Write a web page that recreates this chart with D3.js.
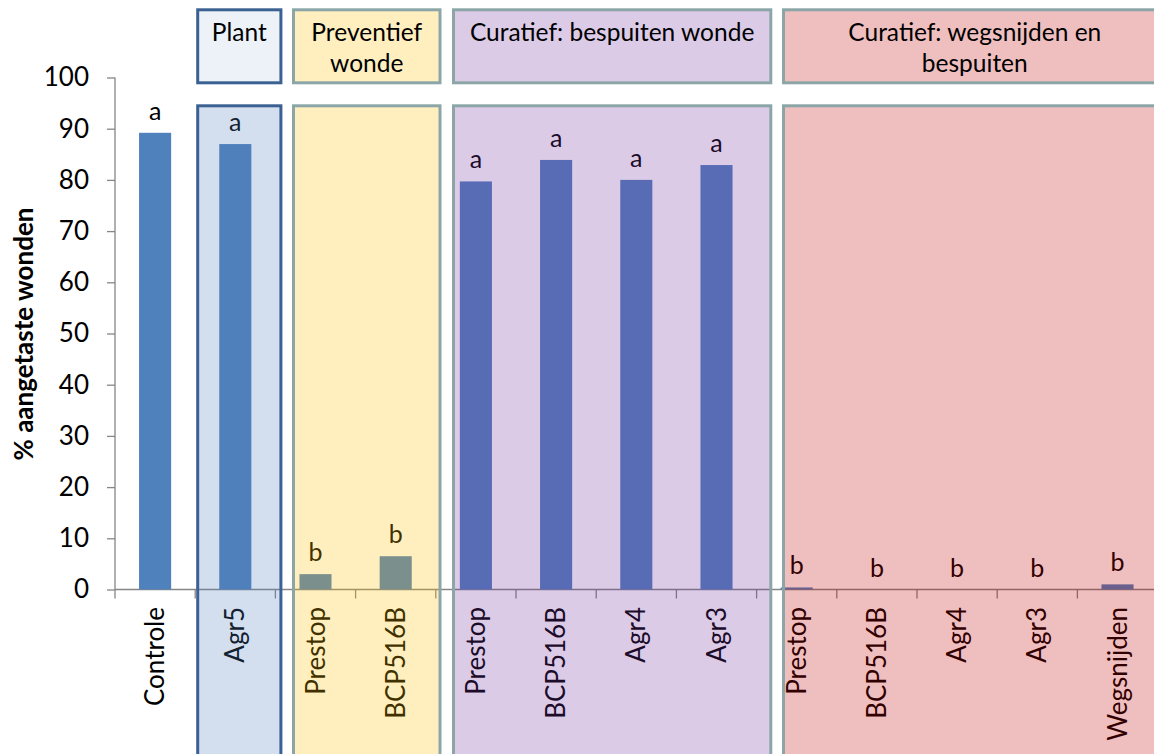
<!DOCTYPE html>
<html><head><meta charset="utf-8">
<script src="https://cdn.jsdelivr.net/npm/d3@7"></script>
<style>body{margin:0;background:#fff;overflow:hidden}svg{display:block;font-family:Lato,"Open Sans",sans-serif}</style>
</head><body><svg id="chart" width="1154" height="754"></svg>
<script>
// ---- data ----
const categories = ["Controle","Agr5","Prestop","BCP516B","Prestop","BCP516B","Agr4","Agr3","Prestop","BCP516B","Agr4","Agr3","Wegsnijden"];
const values = [89.2, 87.0, 3.0, 6.5, 79.7, 83.9, 80.0, 82.9, 0.4, 0, 0, 0, 1.0];
const letters = ["a","a","b","b","a","a","a","a","b","b","b","b","b"];
const groupNames = [["Plant"],["Preventief","wonde"],["Curatief: bespuiten wonde"],["Curatief: wegsnijden en","bespuiten"]];
const groupStart = [1,2,4,8];
const groupEnd = [2,4,8,13];
const yTicks = [0,10,20,30,40,50,60,70,80,90,100];

// ---- layout ----
const svg = d3.select("#chart");
const x = d3.scaleBand().domain(d3.range(categories.length)).range([115, 1157.6]).padding(0);
const y = d3.scaleLinear().domain([0,100]).range([589.5, 77.5]);
const step = x.step();
const barW = step*0.4;
const axisCol = "#868686";
const groupFill = ["#4F81BD","#FFC000","#7030A0","#C00000"];
const headFillOp = [0.1,0.25,0.25,0.25];
const groupStroke = ["#3B6193","#8CA6A7","#8CA6A7","#8CA6A7"];
const padL = [1, 16.6, 16.2, 25.4];
const padR = [7, 5.7, 15.7, 10];
const boundary = i => x.range()[0] + i*step;

// y axis
const yAxis = d3.axisLeft(y).tickValues(yTicks).tickSize(8).tickPadding(18);
const gy = svg.append("g").attr("transform","translate(115,0)").call(yAxis);
gy.selectAll("path,line").attr("stroke",axisCol).attr("stroke-width",1.3);
gy.select(".domain").attr("d","M0,"+y(100)+"V"+y(0));
gy.selectAll("text").attr("font-size",26).attr("font-family","Lato").attr("fill","#000");

// y title
svg.append("text").attr("transform","translate(33,334) rotate(-90)")
  .attr("text-anchor","middle").attr("font-weight","bold").attr("font-size",26).text("% aangetaste wonden");

// x axis line and boundary ticks
svg.append("line").attr("x1",115).attr("x2",1160).attr("y1",y(0)).attr("y2",y(0)).attr("stroke",axisCol).attr("stroke-width",1.3);
svg.selectAll(".xt").data(d3.range(categories.length+1)).join("line")
  .attr("x1",boundary).attr("x2",boundary).attr("y1",y(0)).attr("y2",y(0)+9)
  .attr("stroke",axisCol).attr("stroke-width",1.3);

// bars
svg.selectAll(".bar").data(values).join("rect")
  .attr("x",(d,i)=>x(i)+(step-barW)/2).attr("width",barW)
  .attr("y",d=>y(d)).attr("height",d=>y(0)-y(d)).attr("fill","#4F81BD");

// letters
svg.selectAll(".lab").data(letters).join("text")
  .attr("x",(d,i)=>x(i)+step/2).attr("y",(d,i)=>y(values[i])-13)
  .attr("text-anchor","middle").attr("font-size",25).text(d=>d);

// category labels
svg.selectAll(".cat").data(categories).join("text")
  .attr("transform",(d,i)=>"translate("+(x(i)+step/2)+",607) rotate(-90)")
  .attr("text-anchor","end").attr("dy","0.35em").attr("font-size",26).text(d=>d);

// group boxes (lower overlays)
groupNames.forEach((g,k)=>{
  const L = boundary(groupStart[k]) + padL[k];
  const R = boundary(groupEnd[k]) + padR[k];
  svg.append("rect").attr("x",L+1.5).attr("y",105.8).attr("width",R-L-3).attr("height",700)
    .attr("fill",groupFill[k]).attr("fill-opacity",0.25)
    .attr("stroke",groupStroke[k]).attr("stroke-width",3);
  svg.append("rect").attr("x",L+1.5).attr("y",9.8).attr("width",R-L-3).attr("height",73)
    .attr("fill",groupFill[k]).attr("fill-opacity",headFillOp[k])
    .attr("stroke",groupStroke[k]).attr("stroke-width",3);
  const cx = (L+R)/2;
  g.forEach((line,j)=>{
    svg.append("text").attr("x",cx).attr("y",41+j*31).attr("text-anchor","middle")
      .attr("font-size",24.5).attr("fill","#000").text(line);
  });
});
</script></body></html>
